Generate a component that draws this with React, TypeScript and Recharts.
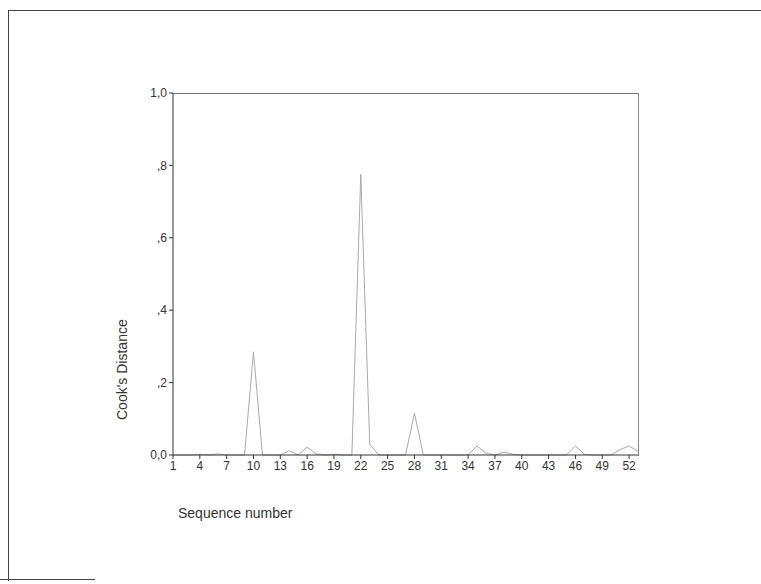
import { LineChart, Line, XAxis, YAxis } from 'recharts';

// Sequence numbers 1..53 and Cook's distance
const sequence = [
  1, 2, 3, 4, 5, 6, 7, 8, 9, 10, 11, 12, 13, 14, 15, 16, 17, 18, 19, 20, 21, 22, 23, 24, 25, 26, 27,
  28, 29, 30, 31, 32, 33, 34, 35, 36, 37, 38, 39, 40, 41, 42, 43, 44, 45, 46, 47, 48, 49, 50, 51, 52, 53,
];
const cooksDistance = [
  0, 0, 0, 0.002, 0, 0.003, 0, 0, 0, 0.285, 0, 0, 0, 0.012, 0, 0.022, 0.003, 0, 0.002, 0, 0, 0.775, 0.03, 0, 0, 0, 0,
  0.115, 0, 0, 0, 0, 0, 0, 0.025, 0.005, 0, 0.008, 0.002, 0, 0, 0, 0, 0, 0, 0.025, 0.002, 0, 0, 0, 0.015, 0.025, 0.01,
];
const xTicks = [1, 4, 7, 10, 13, 16, 19, 22, 25, 28, 31, 34, 37, 40, 43, 46, 49, 52];
const yTicks = [0, 0.2, 0.4, 0.6, 0.8, 1.0];

const chartData = sequence.map((s, i) => ({ seq: s, cook: cooksDistance[i] }));

// SPSS style comma decimals: 0,0 / ,2 / ,4 ... 1,0
const formatY = (v: number) => {
  if (v === 0) return '0,0';
  if (v === 1) return '1,0';
  return ',' + Math.round(v * 10);
};

const font = 'Liberation Sans, Arial, sans-serif';
const axisText = { fontSize: 12, fill: '#333', fontFamily: font };

const App = () => {
  return (
    <div style={{ position: 'absolute', left: 0, top: 0, width: 761, height: 584, background: 'white', overflow: 'hidden' }}>
      {/* scanned page frame */}
      <div style={{ position: 'absolute', left: 8, top: 10, width: 760, height: 570, borderTop: '1px solid #444', borderLeft: '1px solid #444' }} />
      <div style={{ position: 'absolute', left: 0, top: 579, width: 95, borderTop: '1px solid #444' }} />
      {/* plot box: top and right edges */}
      <div style={{ position: 'absolute', left: 173, top: 93, width: 465, height: 362, borderTop: '1px solid #777', borderRight: '1px solid #888' }} />
      <LineChart width={761} height={584} data={chartData} margin={{ top: 93, right: 123, left: 133, bottom: 99 }} style={{ position: 'absolute', left: 0, top: 0 }}>
        <XAxis
          dataKey="seq"
          type="number"
          domain={[1, 53]}
          ticks={xTicks}
          stroke="#333"
          tickSize={4}
          tick={axisText}
          height={30}
          label={{ value: 'Sequence number', position: 'insideBottomLeft', dy: 38, dx: 0, style: { fontSize: 14, fill: '#333', fontFamily: font } }}
        />
        <YAxis
          domain={[0, 1]}
          ticks={yTicks}
          tickFormatter={formatY}
          stroke="#333"
          tickSize={4}
          tick={axisText}
          width={40}
          label={{ value: "Cook's Distance", angle: -90, position: 'insideLeft', dx: -16, dy: 146, style: { fontSize: 14, fill: '#333', fontFamily: font } }}
        />
        <Line
          type="linear"
          dataKey="cook"
          stroke="#a9a9a9"
          strokeWidth={1}
          dot={false}
          isAnimationActive={false}
        />
      </LineChart>
    </div>
  );
};

export default App;
